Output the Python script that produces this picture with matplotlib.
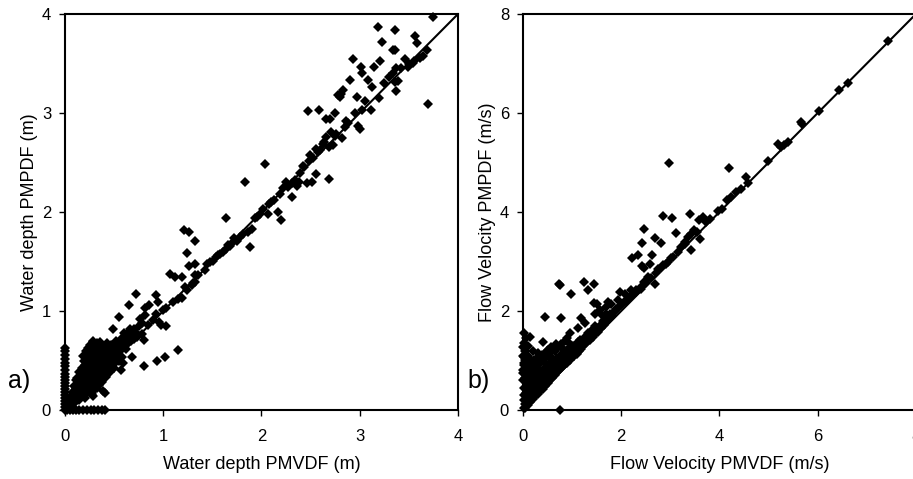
import matplotlib
matplotlib.use("Agg")
from matplotlib import pyplot as plt

plt.rcParams['font.family'] = ['Liberation Sans', 'DejaVu Sans']

# panel a) water depth (m): PMVDF on x, PMPDF on y
depth_upper = [
    (3.75, 3.97), (3.19, 3.87), (3.36, 3.84), (3.23, 3.72), (3.56, 3.78), (3.58, 3.71),
    (3.34, 3.64), (3.36, 3.64), (2.93, 3.55), (3.01, 3.46), (3.02, 3.40), (3.21, 3.53),
    (3.15, 3.47), (3.46, 3.55), (3.54, 3.51), (3.61, 3.56), (3.64, 3.58), (3.68, 3.64),
    (3.49, 3.47), (3.37, 3.45), (3.34, 3.40), (3.39, 3.32), (3.36, 3.31), (3.37, 3.22),
    (3.69, 3.09), (2.90, 3.33), (3.08, 3.33), (3.13, 3.26), (2.83, 3.23), (2.81, 3.19),
    (2.78, 3.18), (2.80, 3.16), (2.97, 3.16), (3.20, 3.15), (3.02, 3.03), (3.11, 3.03),
    (2.47, 3.02), (2.59, 3.03), (2.75, 3.00), (2.66, 2.94), (2.70, 2.94), (2.86, 2.92),
    (2.85, 2.86), (2.98, 2.87), (3.00, 2.84), (2.71, 2.81), (2.75, 2.77), (2.66, 2.76),
    (2.64, 2.71), (2.63, 2.69), (2.82, 2.75), (2.56, 2.64), (2.58, 2.61), (2.49, 2.58),
    (2.52, 2.55), (2.69, 2.66), (2.73, 2.68), (2.69, 2.33), (2.55, 2.38), (2.51, 2.30),
    (2.46, 2.29), (2.38, 2.30), (2.42, 2.46), (2.39, 2.39), (2.34, 2.32), (2.31, 2.29),
    (2.36, 2.26), (2.04, 2.49), (1.83, 2.30), (2.27, 2.25), (2.31, 2.15), (2.19, 2.18),
    (2.10, 2.10), (2.08, 2.08), (2.17, 2.00), (2.20, 1.92), (2.07, 1.98), (1.98, 1.98),
    (1.95, 1.95), (1.90, 1.83), (1.86, 1.80), (1.81, 1.78), (1.78, 1.75), (1.75, 1.71),
    (1.71, 1.70), (1.68, 1.66), (1.64, 1.63), (1.61, 1.60), (1.88, 1.65), (1.64, 1.94),
    (1.21, 1.82), (1.26, 1.80), (1.32, 1.71), (1.24, 1.59), (1.26, 1.45), (1.32, 1.48),
    (1.54, 1.55), (1.58, 1.58), (1.51, 1.51), (1.42, 1.41), (1.07, 1.37), (1.12, 1.34),
    (1.19, 1.34), (1.32, 1.36), (1.22, 1.24), (1.29, 1.26), (1.32, 1.29), (1.24, 1.21),
    (1.30, 1.28), (1.10, 1.09), (1.15, 1.12), (1.19, 1.13), (1.03, 1.03), (1.00, 1.01),
    (0.93, 0.97), (0.90, 0.91), (0.72, 1.17), (0.93, 1.16), (0.95, 1.09), (0.86, 1.06),
    (0.81, 1.03), (0.65, 1.06), (0.55, 0.94), (0.49, 0.82), (0.98, 0.86), (1.03, 0.85),
    (0.96, 0.89), (1.15, 0.61), (1.02, 0.54), (0.94, 0.50), (0.80, 0.44), (0.68, 0.54),
    (0.59, 0.47), (0.57, 0.40), (0.73, 0.77), (0.78, 0.77), (0.66, 0.82), (0.68, 0.76),
    (0.80, 0.71), (0.84, 0.86), (0.76, 0.92), (0.81, 0.96), (0.29, 0.69), (0.36, 0.69),
    (0.32, 0.64), (0.17, 0.42), (0.29, 0.14), (0.39, 0.19), (0.41, 0.17),
    (1.35, 1.36), (1.45, 1.47), (1.48, 1.50), (1.56, 1.57), (1.66, 1.67), (1.72, 1.74),
    (1.93, 1.94), (2.02, 2.03), (2.13, 2.12), (2.22, 2.24), (2.25, 2.30), (2.43, 2.45),
    (2.48, 2.52), (2.60, 2.63), (2.76, 2.79), (2.88, 2.90), (2.95, 3.00), (3.05, 3.12),
    (3.25, 3.30), (3.30, 3.36), (3.42, 3.45), (3.50, 3.50), (3.55, 3.53),
]

depth_cluster = [
    (0.05, 0.05), (0.07, 0.10), (0.08, 0.06), (0.10, 0.15), (0.10, 0.08), (0.12, 0.20),
    (0.12, 0.12), (0.13, 0.25), (0.14, 0.10), (0.15, 0.30), (0.15, 0.18), (0.16, 0.35),
    (0.17, 0.22), (0.18, 0.40), (0.18, 0.28), (0.19, 0.15), (0.20, 0.45), (0.20, 0.33),
    (0.21, 0.24), (0.22, 0.50), (0.22, 0.38), (0.23, 0.30), (0.24, 0.55), (0.24, 0.42),
    (0.25, 0.35), (0.25, 0.26), (0.26, 0.60), (0.27, 0.48), (0.27, 0.39), (0.28, 0.31),
    (0.29, 0.55), (0.30, 0.44), (0.30, 0.36), (0.31, 0.62), (0.31, 0.50), (0.32, 0.40),
    (0.33, 0.33), (0.34, 0.58), (0.34, 0.47), (0.35, 0.38), (0.36, 0.52), (0.37, 0.65),
    (0.37, 0.44), (0.38, 0.57), (0.39, 0.41), (0.40, 0.50), (0.40, 0.62), (0.41, 0.45),
    (0.42, 0.55), (0.43, 0.68), (0.44, 0.49), (0.45, 0.60), (0.46, 0.53), (0.47, 0.66),
    (0.48, 0.56), (0.50, 0.63), (0.50, 0.52), (0.52, 0.70), (0.52, 0.58), (0.54, 0.65),
    (0.55, 0.60), (0.57, 0.72), (0.58, 0.63), (0.60, 0.68), (0.60, 0.78), (0.62, 0.70),
    (0.63, 0.75), (0.65, 0.72), (0.66, 0.80), (0.68, 0.74), (0.70, 0.82), (0.72, 0.78),
    (0.75, 0.85), (0.78, 0.88), (0.62, 0.62), (0.45, 0.46), (0.35, 0.33), (0.26, 0.28),
    (0.20, 0.20), (0.16, 0.16), (0.10, 0.11), (0.06, 0.07), (0.03, 0.03), (0.08, 0.18),
    (0.11, 0.30), (0.14, 0.38), (0.09, 0.24), (0.06, 0.14), (0.04, 0.08), (0.18, 0.55),
    (0.21, 0.60), (0.25, 0.66), (0.28, 0.70), (0.23, 0.63), (0.33, 0.68), (0.19, 0.50),
    (0.12, 0.32), (0.28, 0.22), (0.32, 0.27), (0.36, 0.30), (0.40, 0.36), (0.44, 0.40),
    (0.48, 0.45), (0.52, 0.49), (0.30, 0.20), (0.35, 0.25),
    (0.02, 0.02), (0.04, 0.04), (0.06, 0.09), (0.08, 0.13), (0.09, 0.19), (0.11, 0.22),
    (0.12, 0.16), (0.13, 0.28), (0.14, 0.21), (0.15, 0.24), (0.16, 0.27), (0.17, 0.31),
    (0.18, 0.34), (0.19, 0.37), (0.20, 0.27), (0.21, 0.41), (0.22, 0.31), (0.23, 0.45),
    (0.24, 0.36), (0.25, 0.49), (0.26, 0.40), (0.27, 0.53), (0.28, 0.44), (0.29, 0.36),
    (0.30, 0.56), (0.31, 0.46), (0.32, 0.52), (0.33, 0.44), (0.34, 0.62), (0.35, 0.50),
    (0.36, 0.45), (0.37, 0.56), (0.38, 0.48), (0.39, 0.60), (0.41, 0.54), (0.42, 0.64),
    (0.43, 0.50), (0.45, 0.55), (0.46, 0.62), (0.48, 0.51), (0.49, 0.60), (0.51, 0.66),
    (0.53, 0.56), (0.56, 0.64), (0.58, 0.70), (0.61, 0.66), (0.64, 0.68), (0.67, 0.70),
    (0.70, 0.72), (0.73, 0.74), (0.20, 0.12), (0.24, 0.18), (0.27, 0.16), (0.33, 0.22),
    (0.38, 0.28), (0.42, 0.33), (0.46, 0.38), (0.50, 0.42), (0.55, 0.50), (0.58, 0.54),
]

# points lying on the axes (PMVDF = 0 column, PMPDF = 0 row)
depth_zero_x = [0.0, 0.03, 0.06, 0.09, 0.12, 0.15, 0.18, 0.21, 0.24, 0.27, 0.30, 0.33,
                0.36, 0.40, 0.44, 0.48, 0.52, 0.56, 0.60, 0.63]
depth_zero_y = [0.02, 0.05, 0.08, 0.11, 0.14, 0.18, 0.22, 0.26, 0.30, 0.34, 0.38, 0.41]

# panel b) flow velocity (m/s)
vel_upper = [
    (7.44, 7.45), (6.61, 6.60), (6.44, 6.47), (6.03, 6.05), (5.66, 5.82), (5.69, 5.78),
    (5.19, 5.38), (5.25, 5.31), (5.32, 5.36), (5.39, 5.41), (4.98, 5.04), (2.98, 4.99),
    (4.20, 4.89), (4.54, 4.71), (4.58, 4.58), (4.44, 4.47), (4.34, 4.40), (4.24, 4.30),
    (4.16, 4.25), (4.05, 4.07), (3.97, 4.03), (2.85, 3.91), (3.03, 3.87), (3.41, 3.97),
    (3.59, 3.83), (3.66, 3.90), (3.73, 3.80), (2.46, 3.66), (3.12, 3.58), (2.69, 3.48),
    (2.80, 3.38), (2.42, 3.38), (3.42, 3.56), (3.49, 3.63), (3.36, 3.50), (3.61, 3.46),
    (3.42, 3.23), (3.22, 3.29), (3.29, 3.39), (2.22, 3.07), (2.35, 3.13), (2.63, 3.13),
    (2.43, 2.91), (2.47, 2.86), (2.58, 2.94), (2.68, 2.54), (3.02, 3.07), (2.92, 2.96),
    (2.81, 2.86), (2.54, 2.69), (2.47, 2.59), (2.41, 2.49), (2.31, 2.42), (2.20, 2.42),
    (2.07, 2.35), (1.97, 2.39), (2.14, 2.25), (1.93, 2.22), (1.80, 2.15), (1.69, 2.08),
    (1.59, 1.95), (0.73, 2.55), (0.75, 2.52), (1.24, 2.59), (1.32, 2.43), (1.44, 2.55),
    (0.97, 2.34), (0.45, 1.88), (0.78, 1.86), (1.19, 1.85), (1.27, 1.76), (1.44, 2.16),
    (1.51, 2.14), (1.73, 2.18), (1.56, 2.02), (1.47, 1.95), (1.69, 1.95), (0.03, 1.55),
    (0.14, 1.48), (0.00, 1.28), (0.41, 1.38), (0.51, 1.21), (0.95, 1.55), (0.92, 1.38),
    (1.12, 1.65), (0.78, 1.34), (0.75, 0.00), (0.03, 1.08), (0.17, 1.01), (0.31, 0.94),
    (0.00, 0.81), (0.10, 0.74), (0.24, 0.61),
]

vel_band = [
    (0.05, 0.05), (0.08, 0.15), (0.10, 0.10), (0.12, 0.25), (0.15, 0.17), (0.18, 0.35),
    (0.20, 0.22), (0.22, 0.45), (0.25, 0.28), (0.28, 0.50), (0.30, 0.33), (0.32, 0.60),
    (0.35, 0.38), (0.38, 0.55), (0.40, 0.43), (0.42, 0.70), (0.45, 0.49), (0.48, 0.62),
    (0.50, 0.54), (0.52, 0.78), (0.55, 0.60), (0.58, 0.72), (0.60, 0.65), (0.62, 0.88),
    (0.65, 0.71), (0.68, 0.82), (0.70, 0.76), (0.72, 0.95), (0.75, 0.82), (0.78, 0.92),
    (0.80, 0.87), (0.83, 1.05), (0.85, 0.93), (0.88, 1.00), (0.90, 0.98), (0.93, 1.12),
    (0.95, 1.04), (0.98, 1.10), (1.00, 1.08), (1.03, 1.22), (1.05, 1.14), (1.08, 1.20),
    (1.10, 1.19), (1.13, 1.32), (1.15, 1.25), (1.18, 1.30), (1.20, 1.30), (1.23, 1.42),
    (1.25, 1.35), (1.28, 1.40), (1.30, 1.41), (1.33, 1.50), (1.35, 1.46), (1.40, 1.52),
    (1.45, 1.58), (1.48, 1.65), (1.50, 1.62), (1.55, 1.68), (1.60, 1.73), (1.62, 1.80),
    (1.65, 1.78), (1.70, 1.84), (1.75, 1.88), (1.78, 1.95), (1.85, 1.98), (1.90, 2.05),
    (1.95, 2.08), (2.00, 2.12), (2.05, 2.18), (2.10, 2.20), (2.20, 2.30), (2.30, 2.38),
    (2.40, 2.45), (2.50, 2.56), (2.60, 2.66), (2.70, 2.76), (2.75, 2.84), (2.85, 2.92),
    (2.95, 3.00), (3.05, 3.10), (3.15, 3.20), (3.30, 3.35), (3.55, 3.60), (3.80, 3.85),
    (0.05, 0.30), (0.08, 0.50), (0.10, 0.40), (0.05, 0.65), (0.15, 0.60), (0.20, 0.70),
    (0.25, 0.80), (0.12, 0.90), (0.30, 0.85), (0.35, 0.95), (0.40, 1.00), (0.45, 1.05),
    (0.50, 1.10), (0.55, 1.15), (0.60, 1.05), (0.65, 1.20), (0.70, 1.25), (0.75, 1.30),
    (0.80, 1.25), (0.85, 1.40), (0.90, 1.45), (0.30, 1.15), (0.20, 1.20), (0.02, 0.20),
    (0.02, 0.45), (0.03, 0.90), (0.00, 1.10), (0.02, 1.35), (0.06, 1.45),
]

vel_dense = [
    (0.02, 0.05), (0.04, 0.12), (0.06, 0.22), (0.03, 0.30), (0.07, 0.35), (0.09, 0.28),
    (0.11, 0.18), (0.13, 0.42), (0.14, 0.30), (0.16, 0.50), (0.17, 0.24), (0.19, 0.40),
    (0.21, 0.55), (0.23, 0.34), (0.24, 0.62), (0.26, 0.44), (0.27, 0.32), (0.29, 0.58),
    (0.31, 0.70), (0.32, 0.46), (0.34, 0.40), (0.36, 0.66), (0.37, 0.52), (0.39, 0.78),
    (0.41, 0.48), (0.43, 0.62), (0.44, 0.84), (0.46, 0.56), (0.47, 0.72), (0.49, 0.90),
    (0.51, 0.63), (0.53, 0.80), (0.54, 0.68), (0.56, 0.96), (0.57, 0.74), (0.59, 0.86),
    (0.61, 0.70), (0.63, 1.00), (0.64, 0.80), (0.66, 0.92), (0.67, 0.76), (0.69, 1.05),
    (0.71, 0.86), (0.73, 0.98), (0.74, 0.82), (0.76, 1.10), (0.79, 0.95), (0.81, 1.15),
    (0.82, 0.90), (0.84, 1.02), (0.87, 1.20), (0.89, 0.96), (0.91, 1.08), (0.94, 1.25),
    (0.96, 1.02), (0.99, 1.18), (1.01, 1.30), (1.04, 1.10), (1.07, 1.28), (1.09, 1.14),
    (1.12, 1.38), (1.14, 1.20), (1.17, 1.42), (1.19, 1.24), (1.22, 1.35), (1.26, 1.48),
    (1.29, 1.36), (1.32, 1.55), (1.36, 1.42), (1.38, 1.60), (1.42, 1.48), (1.46, 1.70),
    (1.52, 1.58), (1.58, 1.66), (1.64, 1.72), (1.68, 1.90), (1.72, 1.79), (1.82, 1.90),
    (1.88, 2.00), (0.01, 0.60), (0.01, 0.75), (0.02, 0.95), (0.05, 1.02), (0.08, 0.82),
    (0.04, 1.20), (0.10, 1.10), (0.07, 0.62), (0.12, 0.70), (0.16, 0.80), (0.18, 0.92),
    (0.22, 0.85), (0.26, 0.95), (0.28, 1.05), (0.33, 1.08), (0.38, 1.12), (0.10, 1.30),
    (0.22, 1.02), (0.48, 1.20), (0.58, 1.28), (0.68, 1.34),
]


def draw_panel(ax, pairs, lim, ticks, xlabel, ylabel):
    xs = [p[0] for p in pairs]
    ys = [p[1] for p in pairs]
    ax.plot(xs, ys, 'D', color='black', markersize=4.8, markeredgewidth=0,
            clip_on=False, zorder=3)
    ax.plot([0, lim], [0, lim], color='black', linewidth=1.5, zorder=2)
    ax.set_xlim(0, lim)
    ax.set_ylim(0, lim)
    ax.set_xticks(ticks)
    ax.set_yticks(ticks)
    ax.tick_params(direction='out', length=4, width=1, labelsize=12, colors='black')
    ax.tick_params(axis='x', pad=10)
    ax.tick_params(axis='y', pad=6)
    for s in ax.spines.values():
        s.set_linewidth(1.5)
    ax.set_xlabel(xlabel, fontsize=13, labelpad=8)
    ax.set_ylabel(ylabel, fontsize=13, labelpad=3)


fig = plt.figure(figsize=(9.13, 4.79), dpi=100)
ax1 = fig.add_axes([0.0712, 0.144, 0.4304, 0.8267])
ax2 = fig.add_axes([0.5728, 0.144, 0.4304, 0.8267])

depth_all = (depth_upper + depth_cluster
             + [(0.0, v) for v in depth_zero_x]
             + [(v, 0.0) for v in depth_zero_y])
draw_panel(ax1, depth_all, 4, [0, 1, 2, 3, 4],
           'Water depth PMVDF (m)', 'Water depth PMPDF (m)')
draw_panel(ax2, vel_upper + vel_band + vel_dense, 8, [0, 2, 4, 6, 8],
           'Flow Velocity PMVDF (m/s)', 'Flow Velocity PMPDF (m/s)')

fig.text(0.009, 0.19, 'a)', fontsize=18)
fig.text(0.512, 0.19, 'b)', fontsize=18)

fig.savefig('out.png', dpi=100)
